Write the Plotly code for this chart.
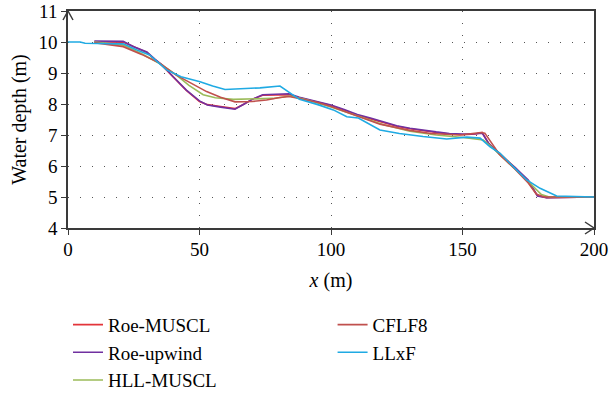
import plotly.graph_objects as go

# ---- data ----
roe_muscl_x = [10, 21, 25, 30, 36, 40, 45, 50, 53, 58, 63.5, 67, 70, 74, 80, 84, 88, 95, 100, 105, 110, 115, 120, 125, 130, 135, 140, 145, 150, 155, 157.5, 160, 165, 170, 175, 178.5, 182, 200]
roe_muscl_y = [10.0, 9.99, 9.85, 9.66, 9.22, 8.88, 8.44, 8.08, 7.98, 7.92, 7.85, 8.0, 8.15, 8.28, 8.3, 8.3, 8.2, 8.06, 7.95, 7.8, 7.64, 7.52, 7.4, 7.28, 7.2, 7.13, 7.08, 7.03, 7.01, 7.03, 7.08, 6.72, 6.32, 5.95, 5.5, 5.05, 4.98, 5.0]

roe_upwind_x = [10, 15, 21, 25, 30, 33, 36, 40, 45, 50, 53, 58, 63.5, 67, 70, 74, 80, 84, 88, 95, 100, 105, 110, 115, 120, 125, 130, 135, 140, 145, 150, 155, 157.5, 160, 165, 170, 175, 178.5, 182, 200]
roe_upwind_y = [10.03, 10.03, 10.02, 9.85, 9.68, 9.45, 9.25, 8.88, 8.45, 8.1, 7.97, 7.9, 7.83, 8.0, 8.15, 8.3, 8.32, 8.33, 8.22, 8.08, 7.97, 7.82, 7.66, 7.55, 7.42, 7.3, 7.22, 7.15, 7.1, 7.05, 7.03, 7.04, 7.06, 6.72, 6.3, 5.95, 5.55, 5.03, 4.98, 5.0]

hll_x = [10, 21, 28, 35, 41, 46, 51.4, 56, 62.9, 70, 78, 84.4, 90, 100, 110, 120, 130, 140, 150.3, 157.9, 161, 165, 170, 175, 180, 183, 200]
hll_y = [10.0, 9.9, 9.62, 9.3, 8.95, 8.6, 8.3, 8.2, 8.15, 8.16, 8.18, 8.26, 8.15, 7.9, 7.62, 7.33, 7.12, 7.0, 6.92, 6.84, 6.62, 6.3, 5.93, 5.5, 5.08, 5.0, 5.0]

cflf8_x = [10, 21, 28, 35, 41, 47, 52.7, 58, 63.5, 70, 75.5, 80, 84, 88, 95, 100, 110, 118.6, 130, 138, 149, 157, 158.5, 164, 170, 175, 178, 181, 200]
cflf8_y = [9.98, 9.85, 9.6, 9.31, 8.94, 8.65, 8.4, 8.22, 8.07, 8.08, 8.13, 8.2, 8.24, 8.18, 8.05, 7.92, 7.62, 7.35, 7.15, 7.05, 7.0, 7.08, 7.06, 6.38, 5.9, 5.45, 5.1, 5.0, 5.0]

llxf_x = [0, 4.6, 6.5, 10, 21, 26, 31, 37.5, 43, 50.2, 55, 59.7, 65, 73, 80.6, 85.7, 88, 95, 100.9, 106, 110.4, 118.6, 126, 135, 144, 151.6, 156.7, 160.5, 164.3, 169.3, 174.4, 179.5, 185.8, 200]
llxf_y = [10.0, 10.0, 9.96, 9.95, 9.94, 9.75, 9.58, 9.1, 8.88, 8.72, 8.58, 8.47, 8.49, 8.52, 8.58, 8.29, 8.15, 7.98, 7.81, 7.59, 7.55, 7.16, 7.05, 6.95, 6.87, 6.93, 6.9, 6.62, 6.41, 5.98, 5.55, 5.28, 5.03, 5.0]

names = ["Roe-MUSCL", "Roe-upwind", "HLL-MUSCL", "CFLF8", "LLxF"]
colors = ["#E3343A", "#7030A0", "#9BBB59", "#C0504D", "#1FAAE3"]
xs = [roe_muscl_x, roe_upwind_x, hll_x, cflf8_x, llxf_x]
ys = [roe_muscl_y, roe_upwind_y, hll_y, cflf8_y, llxf_y]
legends = ["legend", "legend", "legend", "legend2", "legend2"]

x_ticks = [0, 50, 100, 150, 200]
y_ticks = [4, 5, 6, 7, 8, 9, 10, 11]

FONT = "Liberation Serif"

fig = go.Figure()
for n, c, x, y, lg in zip(names, colors, xs, ys, legends):
    fig.add_trace(go.Scatter(x=x, y=y, name=n, mode="lines",
                             line=dict(color=c, width=1.6), legend=lg))

axis_common = dict(
    showline=True, linecolor="#3a3a3a", linewidth=1.6, mirror=True,
    ticks="outside", ticklen=5, tickcolor="#3a3a3a", tickwidth=1.2,
    showgrid=True, gridcolor="#555555", gridwidth=1.3, griddash="1.3px,10.7px",
    zeroline=False, automargin=False,
    tickfont=dict(family=FONT, size=19, color="black"),
)

leg_common = dict(xanchor="left", yanchor="top", yref="container",
                  font=dict(family=FONT, size=19), bgcolor="rgba(0,0,0,0)",
                  tracegroupgap=0, itemwidth=30)

fig.update_layout(
    width=611, height=393,
    margin=dict(l=68, r=17, t=11, b=165),
    plot_bgcolor="white", paper_bgcolor="white",
    font=dict(family=FONT, size=19, color="black"),
    xaxis=dict(range=[0, 200], tickvals=x_ticks, ticklabelstandoff=-2,
               title=dict(text="<i>x</i> (m)", font=dict(family=FONT, size=20), standoff=14),
               **axis_common),
    yaxis=dict(range=[4, 11], tickvals=y_ticks,
               title=dict(text="Water depth (m)", font=dict(family=FONT, size=20), standoff=6),
               **axis_common),
    legend=dict(x=0.0, y=0.222, **leg_common),
    legend2=dict(x=0.503, y=0.222, **leg_common),
    showlegend=True,
)

# axis arrowheads (decoration)
fig.add_shape(type="path", xref="paper", yref="paper", xsizemode="pixel", ysizemode="pixel",
              xanchor=0, yanchor=1, path="M-5,-9L0,0L5,-9",
              line=dict(color="#3a3a3a", width=1.5))
fig.add_shape(type="path", xref="paper", yref="paper", xsizemode="pixel", ysizemode="pixel",
              xanchor=1, yanchor=0, path="M-9,6L0,0L-9,-6",
              line=dict(color="#3a3a3a", width=1.5))

fig.write_html("out.html")
